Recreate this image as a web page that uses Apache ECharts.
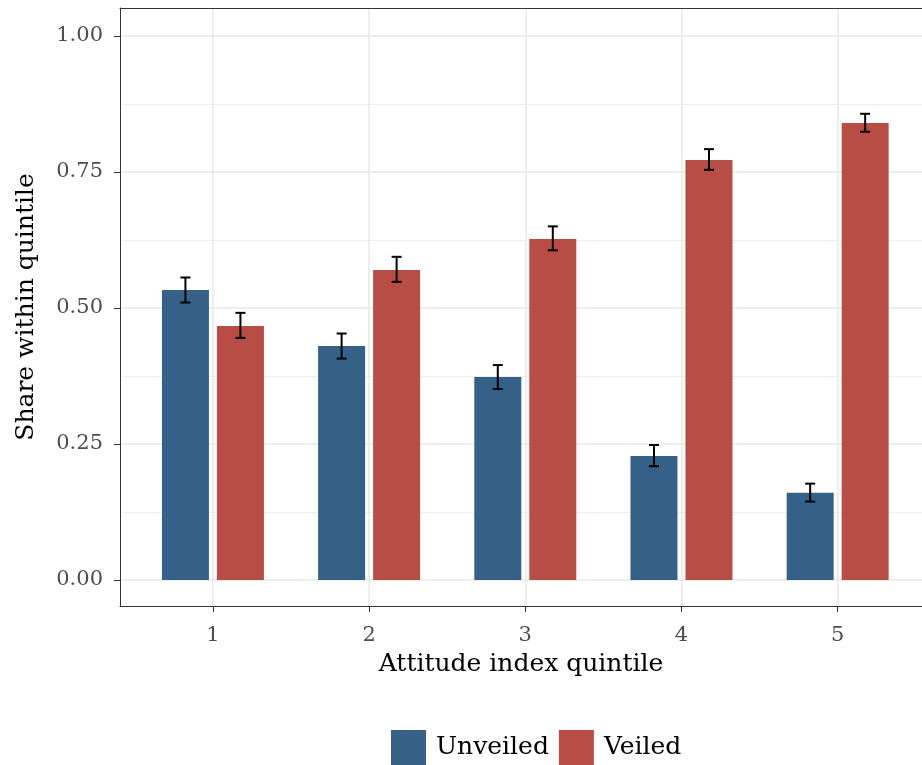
<!DOCTYPE html>
<html>
<head>
<meta charset="utf-8">
<script src="https://cdn.jsdelivr.net/npm/echarts@6/dist/echarts.min.js"></script>
<style>
html,body{margin:0;padding:0;background:#fff;}
#chart{width:922px;height:765px;}
</style>
</head>
<body>
<div id="chart"></div>
<script>
// ---- data ----
var quintiles = [1, 2, 3, 4, 5];
var tickLabels = ['1', '2', '3', '4', '5'];
var seriesNames = ['Unveiled', 'Veiled'];
var unveiled = [0.533, 0.430, 0.373, 0.228, 0.160];
var unveiledLo = [0.510, 0.407, 0.351, 0.209, 0.144];
var unveiledHi = [0.556, 0.453, 0.395, 0.248, 0.177];
var veiled = [0.467, 0.570, 0.627, 0.772, 0.840];
var veiledLo = [0.445, 0.548, 0.606, 0.754, 0.824];
var veiledHi = [0.491, 0.594, 0.650, 0.792, 0.857];
var yMajor = [0, 0.25, 0.5, 0.75, 1.0];
var yMinor = [0.125, 0.375, 0.625, 0.875];

// ---- style ----
var FONT = 'DejaVu Serif';
var BLUE = '#356087';
var RED = '#b84d45';
var GRID_COLOR = '#e8e8e8';
var MINOR_COLOR = '#eeeeee';
var AXIS_COLOR = '#333333';
var BAR_W = 47;
var BAR_OFFSET = 27.5;
var CAP = 5;

var chart = echarts.init(document.getElementById('chart'));

function errSeries(name, lo, hi, dir) {
  return {
    type: 'custom',
    name: name + ' err',
    xAxisIndex: 0,
    yAxisIndex: 0,
    z: 10,
    silent: true,
    data: quintiles.map(function (q, i) { return [q, lo[i], hi[i]]; }),
    renderItem: function (params, api) {
      var top = api.coord([api.value(0), api.value(2)]);
      var bot = api.coord([api.value(0), api.value(1)]);
      var x = top[0] + dir * BAR_OFFSET;
      var st = { stroke: '#000', lineWidth: 2 };
      return {
        type: 'group',
        children: [
          { type: 'line', shape: { x1: x, y1: top[1], x2: x, y2: bot[1] }, style: st },
          { type: 'line', shape: { x1: x - CAP, y1: top[1], x2: x + CAP, y2: top[1] }, style: st },
          { type: 'line', shape: { x1: x - CAP, y1: bot[1], x2: x + CAP, y2: bot[1] }, style: st }
        ]
      };
    }
  };
}

var option = {
  animation: false,
  backgroundColor: '#fff',
  grid: { left: 120, right: 0, top: 8, bottom: 159, containLabel: false },
  legend: {
    data: seriesNames,
    left: 391,
    top: 730,
    padding: 0,
    icon: 'rect',
    itemWidth: 35,
    itemHeight: 35,
    itemGap: 10,
    textStyle: { fontFamily: FONT, fontSize: 25, color: '#000', padding: [0, 0, 0, 5] }
  },
  xAxis: [
    {
      type: 'value',
      min: 0.405,
      max: 5.54,
      name: 'Attitude index quintile',
      nameLocation: 'middle',
      nameGap: 46,
      nameTextStyle: { fontFamily: FONT, fontSize: 25, color: '#000' },
      axisLine: { show: true, onZero: false, lineStyle: { color: AXIS_COLOR, width: 1 } },
      axisTick: { show: true, length: 6, customValues: quintiles, lineStyle: { color: AXIS_COLOR, width: 1 } },
      axisLabel: {
        customValues: quintiles,
        margin: 19,
        fontFamily: FONT, fontSize: 21, color: '#4d4d4d',
        formatter: function (v) { var i = quintiles.indexOf(v); return i >= 0 ? tickLabels[i] : ''; }
      },
      splitLine: { show: true, lineStyle: { color: GRID_COLOR, width: 1.5 } }
    },
    {
      type: 'value',
      position: 'top',
      min: 0.405,
      max: 5.54,
      axisLine: { show: true, onZero: false, lineStyle: { color: AXIS_COLOR, width: 1 } },
      axisTick: { show: false },
      axisLabel: { show: false },
      splitLine: { show: false }
    }
  ],
  yAxis: [
    {
      type: 'value',
      min: -0.048,
      max: 1.0515,
      name: 'Share within quintile',
      nameLocation: 'middle',
      nameGap: 81,
      nameTextStyle: { fontFamily: FONT, fontSize: 25, color: '#000' },
      axisLine: { show: true, onZero: false, lineStyle: { color: AXIS_COLOR, width: 1 } },
      axisTick: { show: true, length: 6, customValues: yMajor, lineStyle: { color: AXIS_COLOR, width: 1 } },
      axisLabel: {
        customValues: yMajor,
        margin: 17,
        fontFamily: FONT, fontSize: 21, color: '#4d4d4d',
        formatter: function (v) { return v.toFixed(2); }
      },
      splitLine: { show: true, lineStyle: { color: GRID_COLOR, width: 1.5 } }
    },
    {
      type: 'value',
      min: -0.048,
      max: 1.0515,
      position: 'left',
      axisLine: { show: false },
      axisTick: { show: false, customValues: yMinor },
      axisLabel: { show: false, customValues: yMinor },
      splitLine: { show: true, lineStyle: { color: MINOR_COLOR, width: 1 } }
    }
  ],
  series: [
    {
      type: 'bar',
      name: seriesNames[0],
      xAxisIndex: 0,
      yAxisIndex: 0,
      barWidth: BAR_W,
      barGap: '17%',
      itemStyle: { color: BLUE },
      data: quintiles.map(function (q, i) { return [q, unveiled[i]]; })
    },
    {
      type: 'bar',
      name: seriesNames[1],
      xAxisIndex: 0,
      yAxisIndex: 0,
      barWidth: BAR_W,
      barGap: '17%',
      itemStyle: { color: RED },
      data: quintiles.map(function (q, i) { return [q, veiled[i]]; })
    },
    errSeries('Unveiled', unveiledLo, unveiledHi, -1),
    errSeries('Veiled', veiledLo, veiledHi, 1)
  ]
};
chart.setOption(option);
</script>
</body>
</html>
